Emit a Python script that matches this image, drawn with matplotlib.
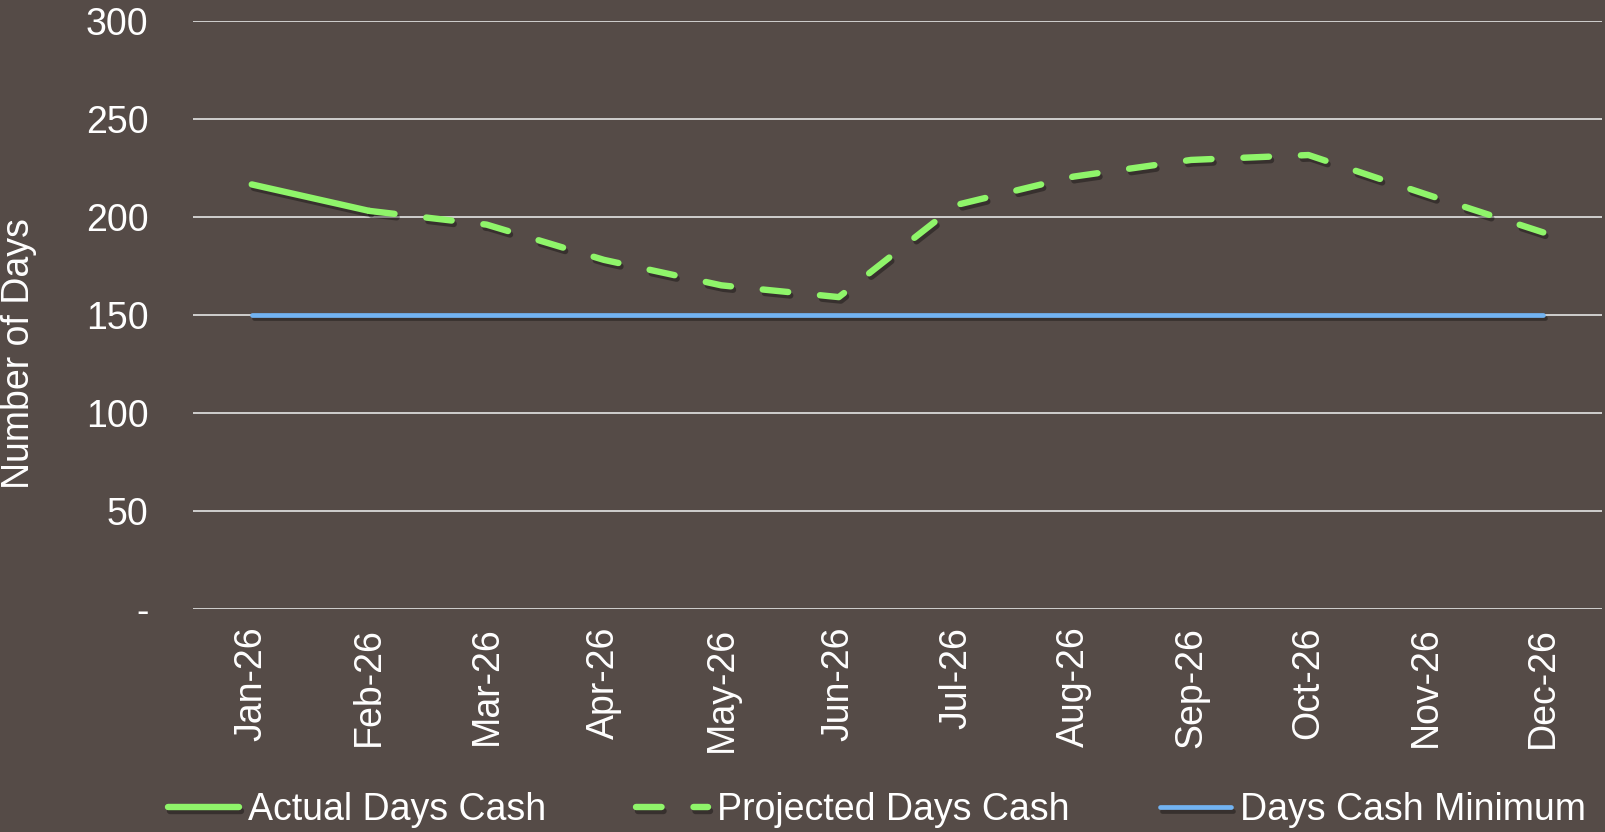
import matplotlib.pyplot as plt
import matplotlib.patheffects as pe

# Data
months = ['Jan-26', 'Feb-26', 'Mar-26', 'Apr-26', 'May-26', 'Jun-26',
          'Jul-26', 'Aug-26', 'Sep-26', 'Oct-26', 'Nov-26', 'Dec-26']
actual = [216.5, 203, None, None, None, None, None, None, None, None, None, None]
projected = [None, 203, 196, 178, 165, 159, 206, 220.5, 229, 231.5, 211.5, 192]
minimum = [150] * 12

bg = '#554B47'
green = '#8FF56A'
blue = '#72B3F2'

plt.rcParams['font.family'] = ['Liberation Sans', 'DejaVu Sans']

fig = plt.figure(figsize=(16.06, 8.32), dpi=100, facecolor=bg)
ax = fig.add_axes([0.1202, 0.2684, 0.8773, 0.7066])
ax.set_facecolor(bg)

x = list(range(len(months)))
shadow = [pe.SimpleLineShadow(offset=(1.5, -2.5), shadow_color='black', alpha=0.35), pe.Normal()]

xa = [i for i, v in zip(x, actual) if v is not None]
ya = [v for v in actual if v is not None]
xp = [i for i, v in zip(x, projected) if v is not None]
yp = [v for v in projected if v is not None]

ax.plot(xa, ya, color=green, lw=4.6, solid_capstyle='round',
        label='Actual Days Cash', path_effects=shadow, zorder=4)
ax.plot(xp, yp, color=green, lw=4.6, dashes=(4, 5.0), dash_capstyle='round',
        label='Projected Days Cash', path_effects=shadow, zorder=4)
ax.plot(x, minimum, color=blue, lw=3.4, solid_capstyle='round',
        label='Days Cash Minimum', path_effects=shadow, zorder=3)

ax.set_xlim(-0.5, 11.5)
ax.set_ylim(0, 300)
ax.set_yticks([0, 50, 100, 150, 200, 250, 300])
ax.set_yticklabels(['-', '50', '100', '150', '200', '250', '300'])
ax.set_xticks(x)
ax.set_xticklabels(months, rotation=90)
ax.tick_params(axis='y', length=0, pad=32, labelsize=27, labelcolor='white')
ax.tick_params(axis='x', length=0, pad=13, labelsize=27, labelcolor='white')
ax.grid(axis='y', color='#D9D9D9', lw=1.3)
ax.set_axisbelow(True)
for s in ax.spines.values():
    s.set_visible(False)

fig.text(0.012, 0.575, 'Number of Days', rotation=90, color='white',
         fontsize=27, ha='center', va='center')

leg = fig.legend(loc='center', ncol=3, bbox_to_anchor=(0.546, 0.026),
                 frameon=False, fontsize=27, labelcolor='white',
                 handlelength=1.9, handletextpad=0.25, columnspacing=2.4,
                 borderpad=0, borderaxespad=0)

plt.savefig('out.png', dpi=100, facecolor=bg)
